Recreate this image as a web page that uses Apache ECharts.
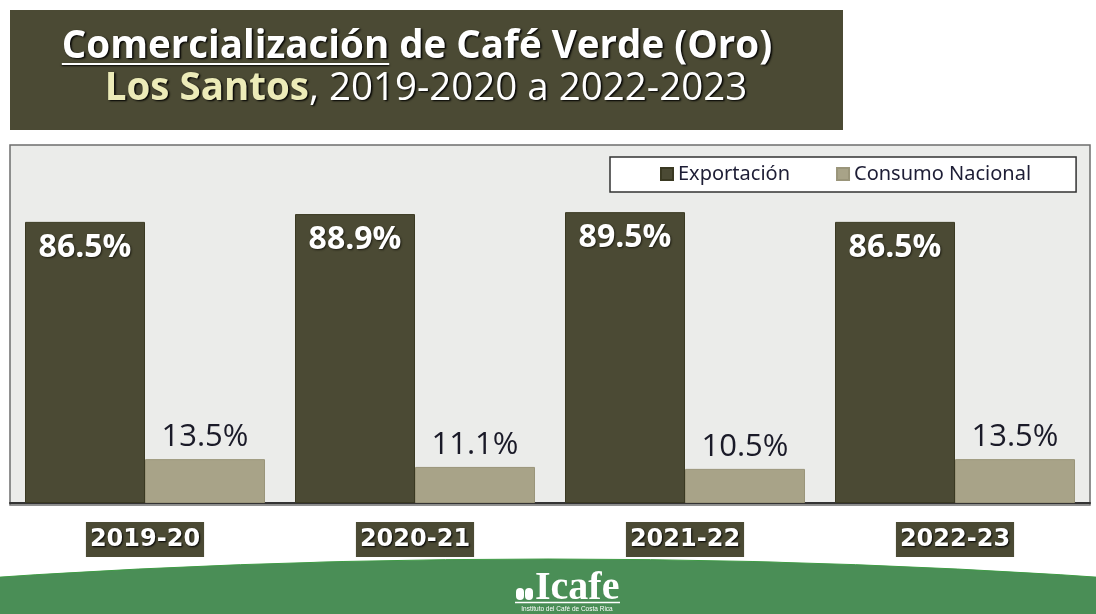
<!DOCTYPE html>
<html>
<head>
<meta charset="utf-8">
<script src="https://cdn.jsdelivr.net/npm/echarts@6/dist/echarts.min.js"></script>
<style>
  html, body { margin: 0; padding: 0; background: #ffffff; }
  #chart { width: 1096px; height: 614px; }
</style>
</head>
<body>
<div id="chart"></div>
<script>
// datos de comercializacion (porcentaje)
const categorias = ['2019-20', '2020-21', '2021-22', '2022-23'];
const exportacion = [86.5, 88.9, 89.5, 86.5];
const consumoNacional = [13.5, 11.1, 10.5, 13.5];
const nombresSeries = ['Exportación', 'Consumo Nacional'];

const oscuro = '#4b4a34';
const claro = '#a8a388';

// medir el ancho de "Comercializacion" para el subrayado
function anchoTexto(txt, font) {
  const ctx = document.createElement('canvas').getContext('2d');
  ctx.font = font;
  return ctx.measureText(txt).width;
}
const fuenteTitulo = 'bold 38.5px "Open Sans"';
const linea1 = 'Comercialización de Café Verde (Oro)';
const anchoL1 = anchoTexto(linea1, fuenteTitulo);
const anchoCom = anchoTexto('Comercialización', fuenteTitulo);
const xCentro1 = 417;
const xIni = xCentro1 - anchoL1 / 2;

const sombra = {textShadowColor: '#000', textShadowBlur: 2, textShadowOffsetX: 1.5, textShadowOffsetY: 1.5};

const chart = echarts.init(document.getElementById('chart'));

const option = {
  backgroundColor: '#ffffff',
  animation: false,
  color: [oscuro, claro],
  grid: {left: 10, right: 6, top: 178, bottom: 111},
  legend: {
    data: nombresSeries,
    left: 610,
    top: 157,
    padding: [7, 45, 8, 50],
    itemGap: 46,
    itemWidth: 12,
    itemHeight: 12,
    icon: 'rect',
    backgroundColor: '#ffffff',
    borderColor: '#333333',
    borderWidth: 1.5,
    textStyle: {fontFamily: 'Noto Sans', fontSize: 20, color: '#1d1d35'}
  },
  xAxis: {
    type: 'category',
    data: categorias,
    axisTick: {show: false},
    axisLine: {lineStyle: {color: '#333333', width: 2}},
    axisLabel: {
      margin: 19,
      color: '#ffffff',
      fontFamily: '"DejaVu Sans"',
      fontWeight: 'bold',
      fontSize: 24,
      lineHeight: 24,
      backgroundColor: oscuro,
      padding: [6, 4, 5, 4],
      textShadowColor: '#000000',
      textShadowBlur: 2,
      textShadowOffsetX: 1,
      textShadowOffsetY: 1
    }
  },
  yAxis: {
    type: 'value',
    min: 0,
    max: 100,
    show: false,
    splitLine: {show: false}
  },
  series: [
    {
      name: nombresSeries[0],
      type: 'bar',
      data: exportacion,
      barWidth: 120,
      barGap: '0%',
      itemStyle: {color: oscuro, borderColor: '#3a3922', borderWidth: 1},
      label: {
        show: true,
        position: 'insideTop',
        distance: 10,
        formatter: '{c}%',
        color: '#ffffff',
        fontFamily: 'Open Sans',
        fontWeight: 'bold',
        fontSize: 32,
        textShadowColor: '#1b1a10',
        textShadowBlur: 2,
        textShadowOffsetX: 1,
        textShadowOffsetY: 1
      }
    },
    {
      name: nombresSeries[1],
      type: 'bar',
      data: consumoNacional,
      barWidth: 120,
      itemStyle: {color: claro, borderColor: '#9a957a', borderWidth: 1},
      label: {
        show: true,
        position: 'top',
        distance: 6,
        formatter: function (p) { return p.value.toFixed(1) + '%'; },
        color: '#1a1a28',
        fontFamily: 'Open Sans',
        fontSize: 31
      }
    }
  ],
  graphic: [
    // panel del grafico
    {
      type: 'rect', z: -10, silent: true,
      shape: {x: 10, y: 145, width: 1080, height: 360},
      style: {fill: '#ebecea', stroke: '#6e6e6e', lineWidth: 1.5}
    },
    // caja del titulo
    {
      type: 'rect', z: 1, silent: true,
      shape: {x: 10, y: 10, width: 833, height: 120},
      style: {fill: oscuro}
    },
    {
      type: 'text', z: 2, silent: true,
      style: Object.assign({
        x: xCentro1, y: 47,
        text: linea1,
        font: fuenteTitulo,
        fill: '#ffffff',
        align: 'center',
        verticalAlign: 'middle'
      }, sombra)
    },
    {
      type: 'line', z: 2, silent: true,
      shape: {x1: xIni, y1: 64, x2: xIni + anchoCom, y2: 64},
      style: {stroke: '#ffffff', lineWidth: 2, shadowColor: '#000', shadowBlur: 2, shadowOffsetY: 1}
    },
    {
      type: 'text', z: 2, silent: true,
      style: {
        x: 426, y: 89,
        text: '{a|Los Santos}{b|, 2019-2020 a 2022-2023}',
        align: 'center',
        verticalAlign: 'middle',
        rich: {
          a: Object.assign({font: 'bold 38.5px "Open Sans"', fill: '#ecebb8'}, sombra),
          b: Object.assign({font: '38.5px "Open Sans"', fill: '#ffffff'}, sombra)
        }
      }
    },
    // pie verde (arco de circulo grande)
    {
      type: 'circle', z: 1, silent: true,
      shape: {cx: 548, cy: 8910, r: 8351},
      style: {fill: '#4a8e56', stroke: '#3f9b45', lineWidth: 1}
    },
    {
      type: 'rect', z: 2, silent: true,
      shape: {x: 516, y: 588, width: 8, height: 12, r: 4},
      style: {fill: '#ffffff'}
    },
    {
      type: 'rect', z: 2, silent: true,
      shape: {x: 525, y: 588, width: 8, height: 12, r: 4},
      style: {fill: '#ffffff'}
    },
    {
      type: 'text', z: 2, silent: true,
      style: {
        x: 535, y: 609, text: 'Icafe',
        font: 'bold 40px "Liberation Serif", serif',
        fill: '#ffffff', verticalAlign: 'bottom'
      }
    },
    {
      type: 'line', z: 2, silent: true,
      shape: {x1: 515, y1: 602.5, x2: 620, y2: 602.5},
      style: {stroke: '#ffffff', lineWidth: 1.5}
    },
    {
      type: 'text', z: 2, silent: true,
      style: {
        x: 567, y: 609.5, text: 'Instituto del Café de Costa Rica',
        font: '6.5px "Liberation Sans", sans-serif',
        fill: '#ffffff', align: 'center', verticalAlign: 'middle'
      }
    }
  ]
};

chart.setOption(option);
</script>
</body>
</html>
